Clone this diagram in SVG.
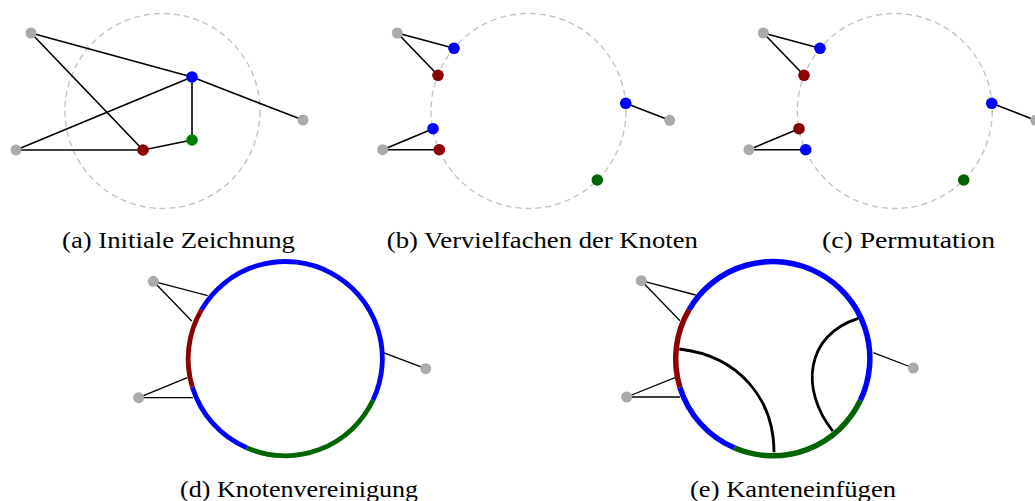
<svg xmlns="http://www.w3.org/2000/svg" width="1035" height="501" viewBox="0 0 1035 501">
<style>
.guide{fill:none;stroke:#c4c4c4;stroke-width:1.4;stroke-dasharray:6 4}
.e{stroke:#000;stroke-width:1.6;fill:none}
.e2{stroke:#000;stroke-width:1.3;fill:none}
.gray{fill:#aaaaaa}
.blue{fill:#0000ff}
.red{fill:#8b0000}
.green{fill:#008000}
.dgreen{fill:#006400}
.ring{fill:none;stroke-width:4.8}
.ringe{fill:none;stroke-width:5.5}
.sb{stroke:#0000ff}
.sr{stroke:#8b0000}
.sg{stroke:#006400}
.curve{fill:none;stroke:#000;stroke-width:2.8}
.cap{font-family:"Liberation Serif","Times New Roman",serif;font-size:24px;fill:#000;text-anchor:middle}
</style>
<rect width="1035" height="501" fill="#fff"/>

<!-- Panel (a) -->
<g id="panel-a">
<circle class="guide" cx="162.5" cy="111" r="97.5"/>
<g id="edges-a">
<line class="e" x1="31" y1="33" x2="192" y2="77"/>
<line class="e" x1="31" y1="33" x2="143" y2="150"/>
<line class="e" x1="16" y1="150" x2="192" y2="77"/>
<line class="e" x1="16" y1="150" x2="143" y2="150"/>
<line class="e" x1="143" y1="150" x2="192" y2="140"/>
<line class="e" x1="192" y1="140" x2="192" y2="77"/>
<line class="e" x1="192" y1="77" x2="303" y2="120"/>
</g>
<g id="a-n1"><circle class="gray" cx="31" cy="33" r="5.5"/></g>
<g id="a-n2"><circle class="gray" cx="16" cy="150" r="5.5"/></g>
<g id="a-n3"><circle class="gray" cx="303" cy="120" r="5.5"/></g>
<g id="a-blue"><circle class="blue" cx="192" cy="77" r="5.8"/></g>
<g id="a-red"><circle class="red" cx="143" cy="150" r="5.8"/></g>
<g id="a-green"><circle class="green" cx="192" cy="140" r="5.8"/></g>
</g>

<!-- Panel (b) -->
<g id="panel-b">
<circle class="guide" cx="528.5" cy="111" r="97.5"/>
<g id="edges-b">
<line class="e" x1="397.3" y1="33" x2="454" y2="48.3"/>
<line class="e" x1="397.3" y1="33" x2="438" y2="75.3"/>
<line class="e" x1="382.7" y1="149.7" x2="433" y2="128.7"/>
<line class="e" x1="382.7" y1="149.7" x2="439.3" y2="149.7"/>
<line class="e" x1="625.7" y1="103.3" x2="669.7" y2="120.3"/>
</g>
<g id="b-n1"><circle class="gray" cx="397.3" cy="33" r="5.5"/></g>
<g id="b-n2"><circle class="gray" cx="382.7" cy="149.7" r="5.5"/></g>
<g id="b-n3"><circle class="gray" cx="669.7" cy="120.3" r="5.5"/></g>
<g id="b-blue1"><circle class="blue" cx="454" cy="48.3" r="5.8"/></g>
<g id="b-red1"><circle class="red" cx="438" cy="75.3" r="5.8"/></g>
<g id="b-blue2"><circle class="blue" cx="433" cy="128.7" r="5.8"/></g>
<g id="b-red2"><circle class="red" cx="439.3" cy="149.7" r="5.8"/></g>
<g id="b-blue3"><circle class="blue" cx="625.7" cy="103.3" r="5.8"/></g>
<g id="b-green"><circle class="dgreen" cx="597.3" cy="180" r="5.8"/></g>
</g>

<!-- Panel (c) -->
<g id="panel-c">
<circle class="guide" cx="894.8" cy="111" r="97.5"/>
<g id="edges-c">
<line class="e" x1="763.3" y1="33" x2="820" y2="48.3"/>
<line class="e" x1="763.3" y1="33" x2="804" y2="75.3"/>
<line class="e" x1="749" y1="149.7" x2="799" y2="128.7"/>
<line class="e" x1="749" y1="149.7" x2="805.7" y2="149.7"/>
<line class="e" x1="991.7" y1="103.3" x2="1035.7" y2="120.3"/>
</g>
<g id="c-n1"><circle class="gray" cx="763.3" cy="33" r="5.5"/></g>
<g id="c-n2"><circle class="gray" cx="749" cy="149.7" r="5.5"/></g>
<g id="c-n3"><circle class="gray" cx="1035.7" cy="120.3" r="5.5"/></g>
<g id="c-blue1"><circle class="blue" cx="820" cy="48.3" r="5.8"/></g>
<g id="c-red1"><circle class="red" cx="804" cy="75.3" r="5.8"/></g>
<g id="c-red2"><circle class="red" cx="799" cy="128.7" r="5.8"/></g>
<g id="c-blue2"><circle class="blue" cx="805.7" cy="149.7" r="5.8"/></g>
<g id="c-blue3"><circle class="blue" cx="991.7" cy="103.3" r="5.8"/></g>
<g id="c-green"><circle class="dgreen" cx="963.7" cy="180" r="5.8"/></g>
</g>

<!-- Panel (d) -->
<g id="panel-d">
<g id="edges-d">
<line class="e2" x1="153.3" y1="281.3" x2="207.7" y2="295.7"/>
<line class="e2" x1="153.3" y1="281.3" x2="191.7" y2="321"/>
<line class="e2" x1="138.7" y1="397.7" x2="187.3" y2="377.7"/>
<line class="e2" x1="138.7" y1="397.7" x2="192.7" y2="397.7"/>
<line class="e2" x1="425.7" y1="368.7" x2="383.3" y2="352.7"/>
</g>
<g id="d-ring">
<path class="ring sg" d="M372.9,400.3 A97,97 0 0 1 246.7,447.8"/>
<path class="ring sb" d="M246.7,447.8 A97,97 0 0 1 192.4,387.2"/>
<path class="ring sr" d="M192.4,387.2 A97,97 0 0 1 201.6,309.6"/>
<path class="ring sb" d="M201.6,309.6 A97,97 0 0 1 372.9,400.3"/>
</g>
<g id="d-n1"><circle class="gray" cx="153.3" cy="281.3" r="5.5"/></g>
<g id="d-n2"><circle class="gray" cx="138.7" cy="397.7" r="5.5"/></g>
<g id="d-n3"><circle class="gray" cx="425.7" cy="368.7" r="5.5"/></g>
</g>

<!-- Panel (e) -->
<g id="panel-e">
<g id="edges-e">
<line class="e2" x1="641.3" y1="280.7" x2="695.7" y2="295"/>
<line class="e2" x1="641.3" y1="280.7" x2="680" y2="320.7"/>
<line class="e2" x1="626.7" y1="397" x2="675" y2="377.7"/>
<line class="e2" x1="626.7" y1="397" x2="680" y2="397"/>
<line class="e2" x1="913.3" y1="368" x2="873.3" y2="352.7"/>
<path class="curve" d="M679.3,349 C740,356 774,400 774,452.3"/>
<path class="curve" d="M858.3,318.3 C805,335 800,390 832.7,431"/>
</g>
<g id="e-ring">
<path class="ringe sg" d="M860.4,400.3 A97,97 0 0 1 734.2,447.8"/>
<path class="ringe sb" d="M734.2,447.8 A97,97 0 0 1 679.9,387.2"/>
<path class="ringe sr" d="M679.9,387.2 A97,97 0 0 1 689.1,309.6"/>
<path class="ringe sb" d="M689.1,309.6 A97,97 0 0 1 860.4,400.3"/>
</g>
<g id="e-n1"><circle class="gray" cx="641.3" cy="280.7" r="5.5"/></g>
<g id="e-n2"><circle class="gray" cx="626.7" cy="397" r="5.5"/></g>
<g id="e-n3"><circle class="gray" cx="913.3" cy="368" r="5.5"/></g>
</g>

<!-- Captions -->
<g id="captions">
<text class="cap" x="178.5" y="248" textLength="233" lengthAdjust="spacingAndGlyphs">(a) Initiale Zeichnung</text>
<text class="cap" x="542.3" y="248" textLength="311" lengthAdjust="spacingAndGlyphs">(b) Vervielfachen der Knoten</text>
<text class="cap" x="908.5" y="248" textLength="173" lengthAdjust="spacingAndGlyphs">(c) Permutation</text>
<text class="cap" x="299" y="496.5" textLength="238" lengthAdjust="spacingAndGlyphs">(d) Knotenvereinigung</text>
<text class="cap" x="793" y="496.5" textLength="206" lengthAdjust="spacingAndGlyphs">(e) Kanteneinfügen</text>
</g>
</svg>
